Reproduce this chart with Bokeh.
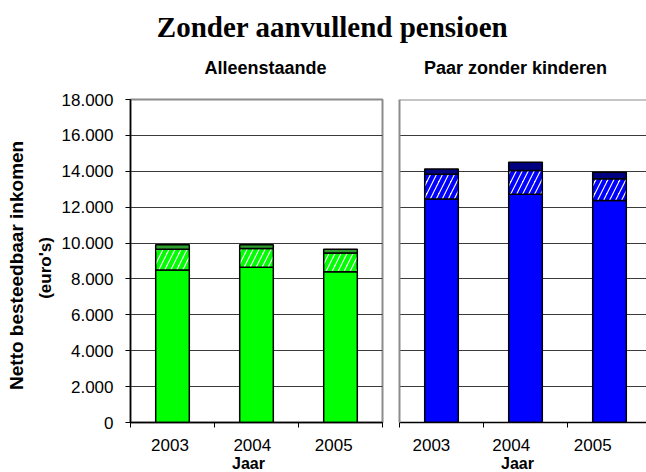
import math
from bokeh.plotting import figure
from bokeh.layouts import column, row
from bokeh.models import ColumnDataSource, Range1d, FixedTicker, Span
from bokeh.core.properties import value
from bokeh.transform import stack
from bokeh.embed import file_html
from bokeh.resources import INLINE

# ---------------- data ----------------
years = ["2003", "2004", "2005"]
alleen_base = [8500, 8650, 8400]
alleen_mid = [1150, 1050, 1050]
alleen_upper = [250, 200, 200]
paar_base = [12450, 12720, 12370]
paar_mid = [1380, 1320, 1220]
paar_upper = [300, 470, 360]
y_ticks = list(range(0, 18001, 2000))
title_text = "Zonder aanvullend pensioen"
panel_titles = ["Alleenstaande", "Paar zonder kinderen"]
y_label_lines = ["Netto besteedbaar inkomen", "(euro's)"]
x_label = "Jaar"

SANS = "Liberation Sans"
SERIF = "Liberation Serif"
y_tick_labels = {v: f"{v:,}".replace(",", ".") for v in y_ticks}

TOP_H = 85        # strip with the main title and panel titles
ROW_H = 368       # panels
BOT_H = 19        # strip with the x-axis titles
TOTAL_W = 646


def panel(width, mb_left, mb_right, unit_px, base, mid, upper, c_base, c_top,
          label_shift, show_y):
    n = len(years)
    xs = [i + 0.5 for i in range(n)]
    src = ColumnDataSource(dict(x=xs, base=base, mid=mid, upper=upper))
    frame_w = width - mb_left - mb_right
    p = figure(width=width, height=ROW_H, output_backend="svg", toolbar_location=None,
               min_border_left=mb_left, min_border_right=mb_right,
               min_border_top=14, min_border_bottom=31,
               x_range=Range1d(0, frame_w / unit_px),
               y_range=Range1d(0, 18000))
    p.background_fill_color = "white"
    p.border_fill_color = "white"
    p.xgrid.visible = False
    p.ygrid.ticker = FixedTicker(ticks=y_ticks)
    p.ygrid.grid_line_color = "#3a3a3a"
    p.ygrid.grid_line_width = 1
    common = dict(x="x", width=0.4, source=src, line_color="black", line_width=1.5)
    p.vbar(bottom=0, top="base", fill_color=c_base, **common)
    p.vbar(bottom="base", top=stack("base", "mid"), fill_color="white",
           hatch_pattern="/", hatch_color=c_base, hatch_scale=12, hatch_weight=4.2,
           **common)
    p.vbar(bottom=stack("base", "mid"), top=stack("base", "mid", "upper"),
           fill_color=c_top, **common)
    # x axis: labels near category centres, boundary ticks as minor ticks
    xa = p.xaxis[0]
    label_pos = [x + s for x, s in zip(xs, label_shift)]
    xa.ticker = FixedTicker(ticks=label_pos, minor_ticks=list(range(n + 1)))
    xa.major_label_overrides = {lp: y for lp, y in zip(label_pos, years)}
    xa.major_tick_out = 0
    xa.major_tick_in = 0
    xa.minor_tick_out = 5
    xa.minor_tick_in = 0
    xa.minor_tick_line_color = "black"
    xa.axis_line_color = "black"
    xa.axis_line_width = 1.5
    xa.major_label_text_font = SANS
    xa.major_label_text_font_size = "17px"
    xa.major_label_text_color = "black"
    xa.major_label_standoff = 11
    ya = p.yaxis[0]
    ya.minor_tick_line_color = None
    if show_y:
        ya.ticker = FixedTicker(ticks=y_ticks)
        ya.major_label_overrides = y_tick_labels
        ya.major_tick_out = 5
        ya.major_tick_in = 0
        ya.major_tick_line_color = "black"
        ya.axis_line_color = "black"
        ya.axis_line_width = 1.5
        ya.major_label_text_font = SANS
        ya.major_label_text_font_size = "17px"
        ya.major_label_text_color = "black"
        ya.major_label_standoff = 12
        p.outline_line_color = "#8c8c8c"
        p.outline_line_width = 2
    else:
        ya.ticker = FixedTicker(ticks=[])
        ya.major_tick_line_color = None
        ya.major_label_standoff = 0
        ya.axis_line_color = "#8c8c8c"
        ya.axis_line_width = 2
        p.outline_line_color = None
        p.add_layout(Span(location=18000, dimension="width",
                          line_color="#8c8c8c", line_width=2))
    return p


# panels: left frame x 125..382, right frame x 399..(646)
p1 = panel(332, 67, 8, 257 / 3.0, alleen_base, alleen_mid, alleen_upper,
           "#00ff00", "#2f9e2f", [-0.03, -0.05, -0.08], True)
p2 = panel(256, 9, 0, 84.0, paar_base, paar_mid, paar_upper,
           "#0000ff", "#000080", [-0.12, -0.17, -0.2], False)

# y-axis title strip (left)
py = figure(width=58, height=ROW_H, output_backend="svg", toolbar_location=None,
            x_range=Range1d(0, 58), y_range=Range1d(ROW_H, 0),
            x_axis_location=None, y_axis_location=None, min_border=0)
py.outline_line_color = None
py.grid.visible = False
py.text(x=[15.5], y=[274 - TOP_H], text=[y_label_lines[0]],
        angle=math.pi / 2, text_font=value(SANS), text_font_style="bold",
        text_font_size="19px", text_align="center", text_baseline="middle",
        text_color="black")
py.text(x=[45], y=[277 - TOP_H], text=[y_label_lines[1]],
        angle=math.pi / 2, text_font=value(SANS), text_font_style="bold",
        text_font_size="17px", text_align="center", text_baseline="middle",
        text_color="black")

# top strip: main title + panel titles
pt = figure(width=TOTAL_W, height=TOP_H, output_backend="svg", toolbar_location=None,
            x_range=Range1d(0, TOTAL_W), y_range=Range1d(TOP_H, 0),
            x_axis_location=None, y_axis_location=None, min_border=0)
pt.outline_line_color = None
pt.grid.visible = False
pt.text(x=[332], y=[26], text=[title_text], text_font=value(SERIF),
        text_font_style="bold", text_font_size="29px", text_align="center",
        text_baseline="alphabetic", text_color="black")
pt.text(x=[265, 515], y=[67.5, 67.5], text=panel_titles, text_font=value(SANS),
        text_font_style="bold", text_font_size="18px", text_align="center",
        text_baseline="alphabetic", text_color="black")

# bottom strip: x-axis titles
pb = figure(width=TOTAL_W, height=BOT_H, output_backend="svg", toolbar_location=None,
            x_range=Range1d(0, TOTAL_W), y_range=Range1d(BOT_H, 0),
            x_axis_location=None, y_axis_location=None, min_border=0)
pb.outline_line_color = None
pb.grid.visible = False
pb.text(x=[248, 517], y=[9.9, 9.9], text=[x_label, x_label],
        text_font=value(SANS), text_font_style="bold", text_font_size="16px",
        text_align="center", text_baseline="alphabetic", text_color="black")

layout = column(pt, row(py, p1, p2, spacing=0), pb, spacing=0)
open("out.html", "w").write(file_html(layout, INLINE))
